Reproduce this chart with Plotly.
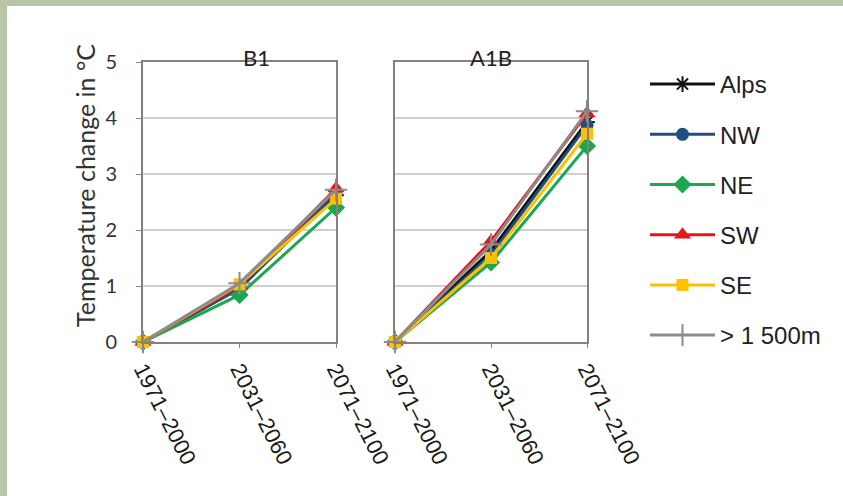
import plotly.graph_objects as go

periods = ["1971–2000", "2031–2060", "2071–2100"]
series_names = ["Alps", "NW", "NE", "SW", "SE", "> 1 500m"]

b1_alps = [0, 0.97, 2.62]
b1_nw = [0, 0.95, 2.65]
b1_ne = [0, 0.84, 2.40]
b1_sw = [0, 1.00, 2.74]
b1_se = [0, 1.03, 2.56]
b1_high = [0, 1.05, 2.72]

a1b_alps = [0, 1.63, 3.93]
a1b_nw = [0, 1.56, 3.87]
a1b_ne = [0, 1.42, 3.50]
a1b_sw = [0, 1.80, 4.08]
a1b_se = [0, 1.50, 3.72]
a1b_high = [0, 1.74, 4.12]

panel_titles = ["B1", "A1B"]
y_ticks = [0, 1, 2, 3, 4, 5]

b1 = [b1_alps, b1_nw, b1_ne, b1_sw, b1_se, b1_high]
a1b = [a1b_alps, a1b_nw, a1b_ne, a1b_sw, a1b_se, a1b_high]

colors = ["#111111", "#1f4e80", "#1ba650", "#e3161c", "#ffc000", "#8c8c8c"]
symbols = ["asterisk-open", "circle", "diamond", "triangle-up", "square", "cross-thin-open"]
sizes = [13, 13, 14, 15, 12, 16]

W, H = 843, 496
def px(x):
    return x / W
def py(y):
    return 1 - y / H

fig = go.Figure()
for panel, data in enumerate([b1, a1b]):
    xa = "x" if panel == 0 else "x2"
    ya = "y" if panel == 0 else "y2"
    for i, name in enumerate(series_names):
        open_sym = symbols[i].endswith("open")
        fig.add_trace(go.Scatter(
            x=periods, y=data[i], name=name, mode="lines+markers",
            xaxis=xa, yaxis=ya, cliponaxis=False,
            legendgroup=name, showlegend=(panel == 0),
            line=dict(color=colors[i], width=3),
            marker=dict(symbol=symbols[i], size=sizes[i], color=colors[i],
                        line=dict(color=colors[i], width=2 if open_sym else 0)),
        ))

frame = "#8a7f7c"
common_x = dict(type="category", range=[0, 2], showline=True, mirror=True,
                linecolor=frame, linewidth=2, showgrid=False, ticks="outside",
                ticklen=4, tickcolor=frame, tickangle=63, automargin=False,
                tickfont=dict(family="Liberation Sans", size=22, color="#1a1a1a"))
common_y = dict(range=[0, 5], tickvals=y_ticks, showline=True, mirror=True,
                linecolor=frame, linewidth=2, showgrid=True, gridcolor="#d0d0d0",
                gridwidth=2, zeroline=False, automargin=False)

fig.update_layout(
    width=W, height=H, margin=dict(l=0, r=0, t=0, b=0, autoexpand=False),
    paper_bgcolor="white", plot_bgcolor="white",
    xaxis=dict(domain=[px(143), px(336)], anchor="y", **common_x),
    xaxis2=dict(domain=[px(395), px(587)], anchor="y2", **common_x),
    yaxis=dict(domain=[py(342), py(62)], anchor="x", showticklabels=True,
               ticks="outside", ticklen=5, tickcolor=frame, tickwidth=1,
               ticklabelstandoff=15,
               tickfont=dict(family="Lato", size=20, color="#333333"), **common_y),
    yaxis2=dict(domain=[py(342), py(62)], anchor="x2", showticklabels=False,
                ticks="", **common_y),
    showlegend=True,
    legend=dict(x=px(645), y=py(62), xanchor="left", yanchor="top",
                font=dict(family="Liberation Sans", size=24, color="#222222"),
                tracegroupgap=16, bgcolor="rgba(0,0,0,0)", itemwidth=65),
    shapes=[
        dict(type="rect", xref="paper", yref="paper", x0=0, x1=1, y0=py(6), y1=1,
             fillcolor="#b6c6a6", line=dict(width=0), layer="above"),
        dict(type="rect", xref="paper", yref="paper", x0=0, x1=px(7), y0=0, y1=1,
             fillcolor="#b6c6a6", line=dict(width=0), layer="above"),
    ],
    annotations=[
        dict(text=panel_titles[0], xref="paper", yref="paper", x=px(241), y=py(42),
             showarrow=False, font=dict(family="Lato", size=22, color="#222222")),
        dict(text=panel_titles[1], xref="paper", yref="paper", x=px(491), y=py(42),
             showarrow=False, font=dict(family="Lato", size=22, color="#222222")),
        dict(text="Temperature change in °C", xref="paper", yref="paper",
             x=px(68), y=py(186), textangle=-90, showarrow=False,
             font=dict(family="Lato", size=25, color="#333333")),
    ],
)

fig.write_html("out.html", config={"displayModeBar": False},
               post_script="document.body.style.margin='0';")
